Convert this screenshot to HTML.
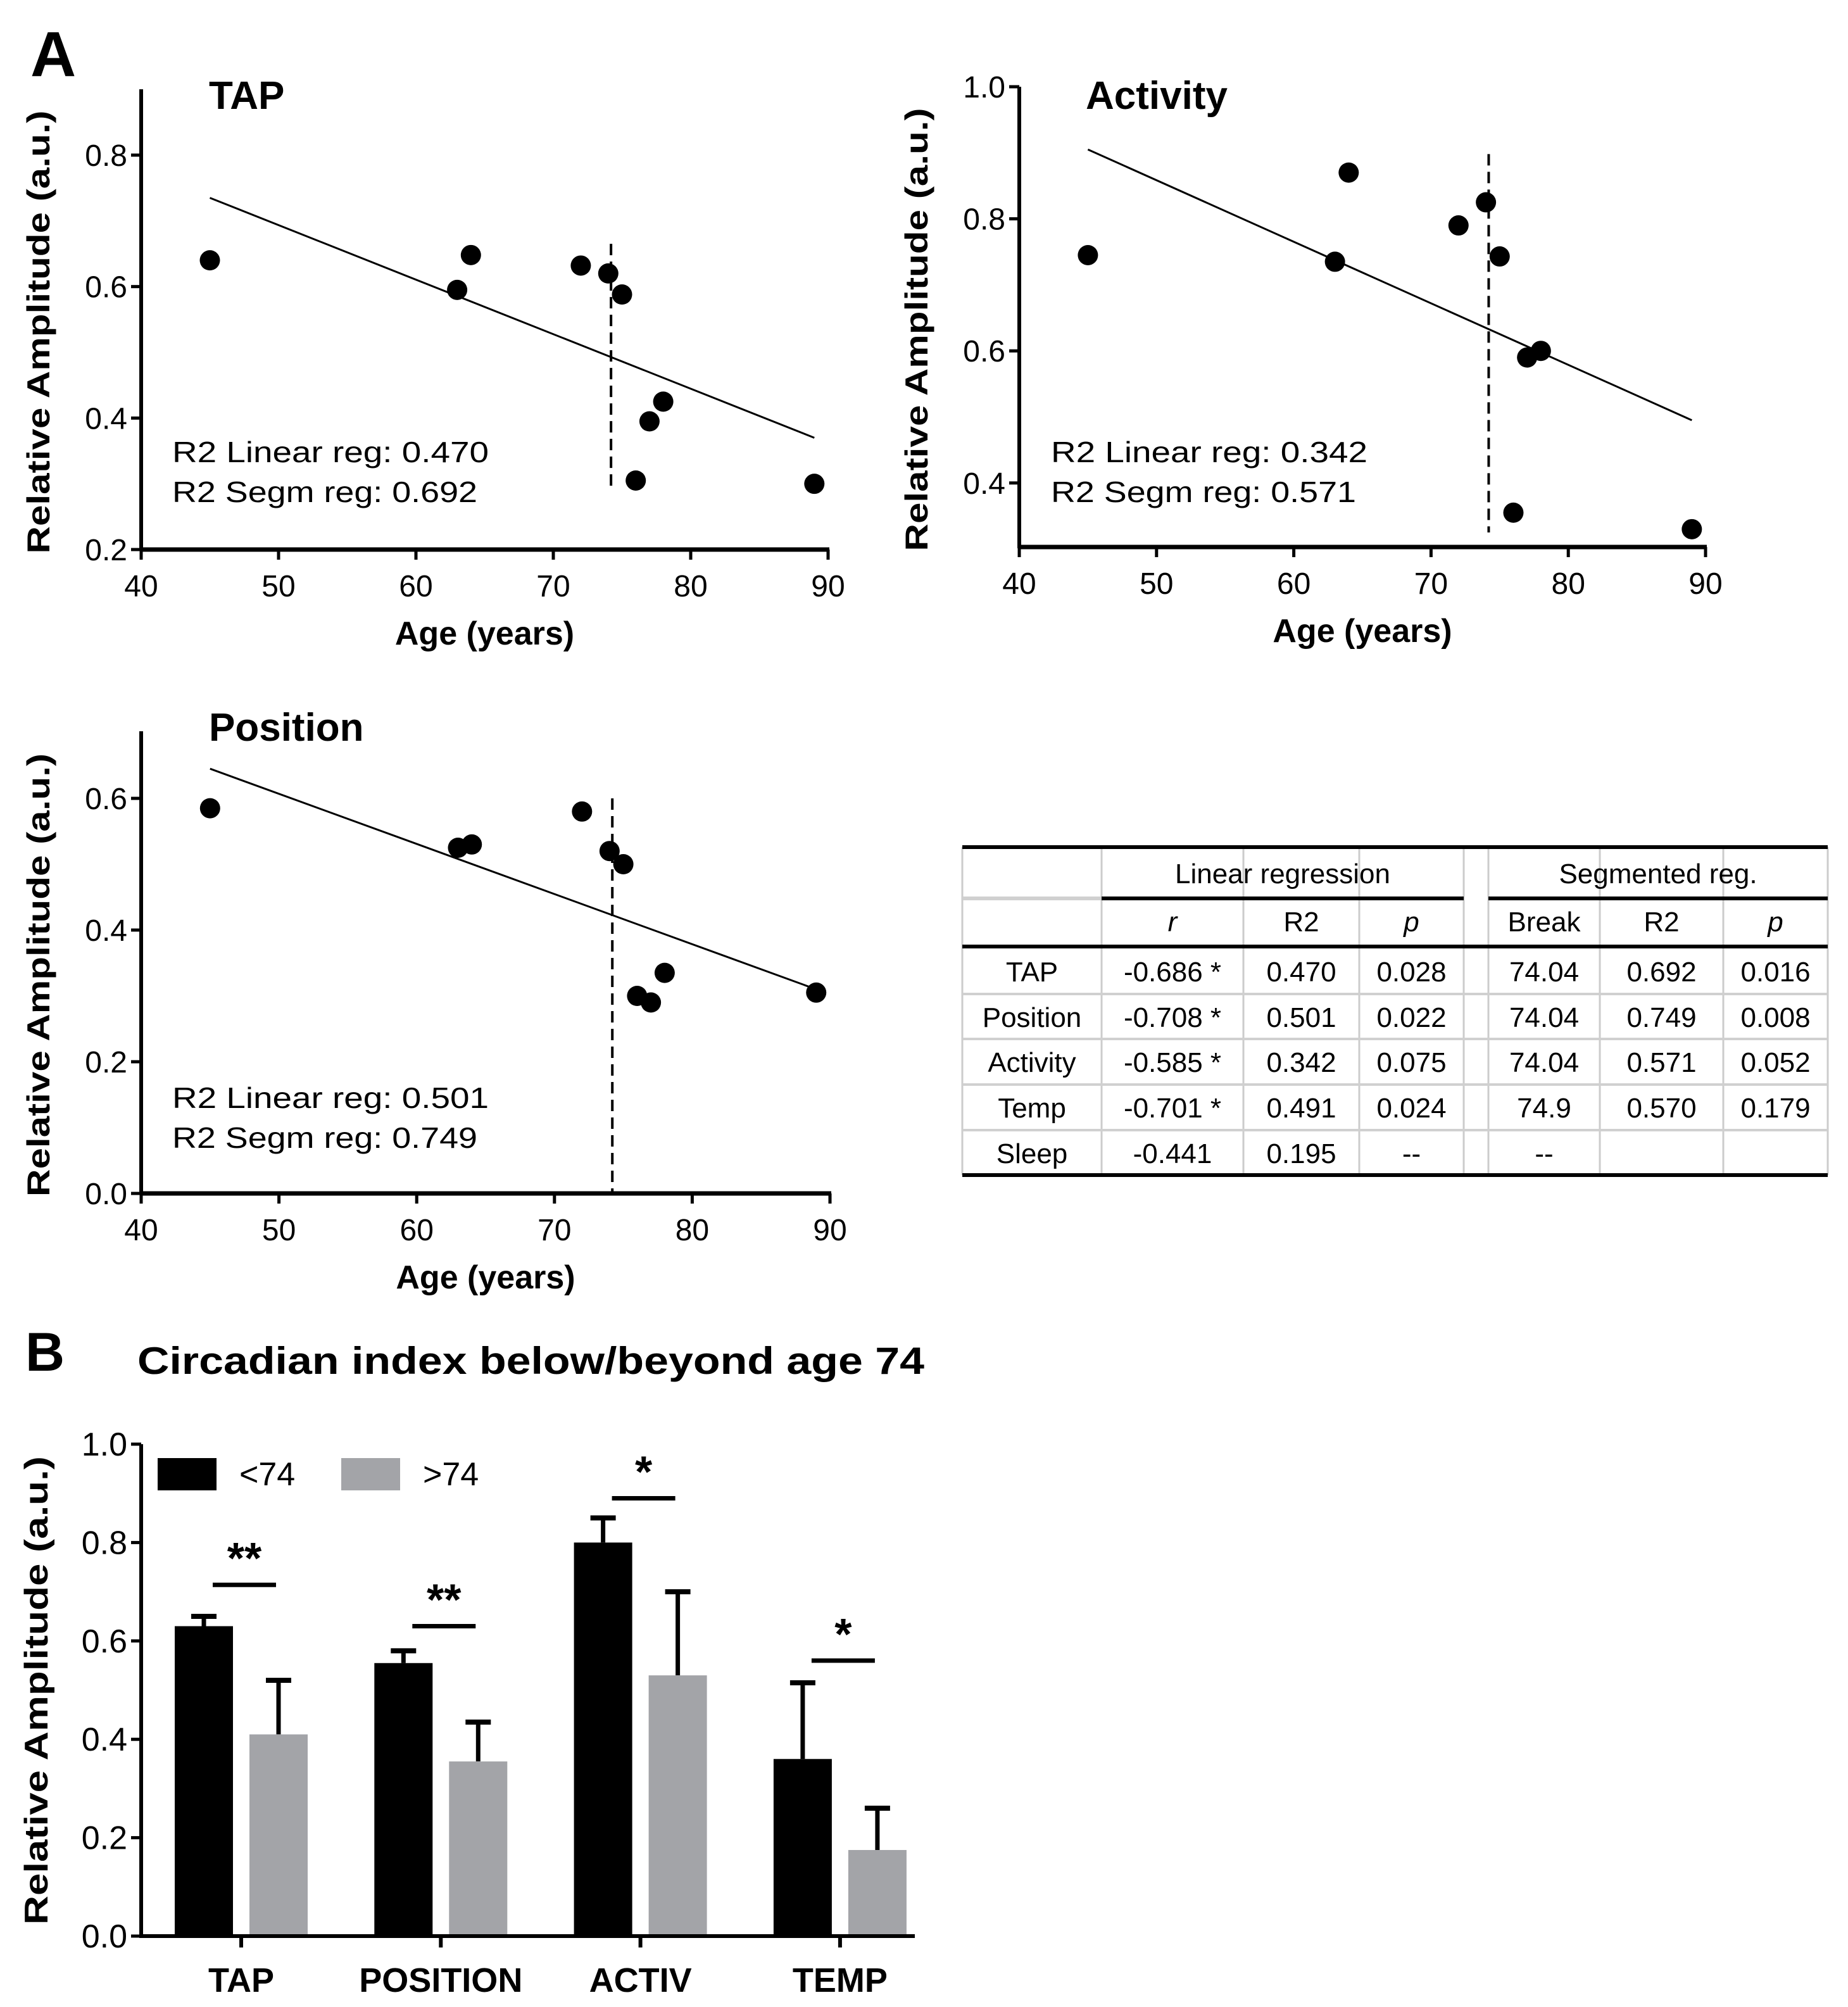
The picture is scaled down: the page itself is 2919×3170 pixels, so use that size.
<!DOCTYPE html>
<html><head><meta charset="utf-8">
<style>
html,body{margin:0;padding:0;background:#fff;}
svg{display:block;font-family:"Liberation Sans",Arial,sans-serif;}
</style></head>
<body>
<svg id="fig" width="2919" height="3170" viewBox="0 0 2919 3170" xmlns="http://www.w3.org/2000/svg">
<text x="48" y="120" font-size="100" font-weight="bold">A</text>
<text x="40" y="2165" font-size="86" font-weight="bold">B</text>
<g id="tapPlot"></g>
<g id="actPlot"></g>
<g id="posPlot"></g>
<g id="table"></g>
<g id="barPlot"></g>
</svg>
<script>
// ---- scatter data ----
const ages = [45, 63, 64, 72, 74, 75, 76, 77, 78, 89];
const tapValues = [0.64, 0.595, 0.648, 0.632, 0.62, 0.588, 0.305, 0.395, 0.425, 0.30];
const activityValues = [0.745, 0.735, 0.87, 0.79, 0.825, 0.743, 0.355, 0.59, 0.60, 0.33];
const positionValues = [0.585, 0.525, 0.53, 0.58, 0.52, 0.50, 0.30, 0.29, 0.335, 0.305];
const tapFit = [0.735, 0.37];
const activityFit = [0.905, 0.495];
const positionFit = [0.645, 0.31];
const fitAges = [45, 89];
const breakAge = 74.2;
const xTicks = [40, 50, 60, 70, 80, 90];
const tapYTicks = [0.2, 0.4, 0.6, 0.8];
const activityYTicks = [0.4, 0.6, 0.8, 1.0];
const positionYTicks = [0.0, 0.2, 0.4, 0.6];
// ---- bar data ----
const barCategories = ["TAP", "POSITION", "ACTIV", "TEMP"];
const youngMeans = [0.63, 0.555, 0.80, 0.36];
const youngErr = [0.02, 0.025, 0.05, 0.155];
const oldMeans = [0.41, 0.355, 0.53, 0.175];
const oldErr = [0.11, 0.08, 0.17, 0.085];
const sigLabels = ["**", "**", "*", "*"];
const sigLevels = [0.714, 0.63, 0.89, 0.56];
const barYTicks = [0.0, 0.2, 0.4, 0.6, 0.8, 1.0];
// ---- table data ----
const tableRowNames = ["TAP", "Position", "Activity", "Temp", "Sleep"];
const tableR = ["-0.686 *", "-0.708 *", "-0.585 *", "-0.701 *", "-0.441"];
const tableR2 = ["0.470", "0.501", "0.342", "0.491", "0.195"];
const tableP = ["0.028", "0.022", "0.075", "0.024", "--"];
const tableBreak = ["74.04", "74.04", "74.04", "74.9", "--"];
const tableSegR2 = ["0.692", "0.749", "0.571", "0.570", ""];
const tableSegP = ["0.016", "0.008", "0.052", "0.179", ""];

const NS = "http://www.w3.org/2000/svg";
function mk(parent, tag, attrs, text) {
  const e = document.createElementNS(NS, tag);
  for (const k in attrs) e.setAttribute(k, attrs[k]);
  if (text !== undefined) e.textContent = text;
  parent.appendChild(e);
  return e;
}

function scatter(gid, cfg, values, fit, yTicks, title, r2a, r2b) {
  const g = document.getElementById(gid);
  const X = a => cfg.x0 + (a - 40) / 50 * (cfg.x1 - cfg.x0);
  const Y = v => cfg.yb - (v - cfg.vb) / (cfg.vt - cfg.vb) * (cfg.yb - cfg.yt);
  let e;
  e = mk(g, "line", {x1: cfg.x0, y1: cfg.ytop, x2: cfg.x0, y2: cfg.yb + 2, stroke: "#000", "stroke-width": 6});
  
  
  e = mk(g, "line", {x1: cfg.x0 - 2, y1: cfg.yb, x2: cfg.x1 + 2, y2: cfg.yb, stroke: "#000", "stroke-width": 7});
  
  
  xTicks.forEach(t => {
    const tl = mk(g, "line", {x1: X(t), y1: cfg.yb, x2: X(t), y2: cfg.yb + 16, stroke: "#000", "stroke-width": 5});
    
    
    const tx = mk(g, "text", {x: X(t), y: cfg.yb + 74, "font-size": 48, "text-anchor": "middle"}, String(t));
    
    
  });
  yTicks.forEach(t => {
    const tl = mk(g, "line", {x1: cfg.x0 - 16, y1: Y(t), x2: cfg.x0, y2: Y(t), stroke: "#000", "stroke-width": 5});
    
    
    const tx = mk(g, "text", {x: cfg.x0 - 22, y: Y(t) + 17, "font-size": 48, "text-anchor": "end"}, t.toFixed(1));
    
    
  });
  e = mk(g, "text", {x: (cfg.x0 + cfg.x1) / 2, y: cfg.yb + 150, "font-size": 52, "font-weight": "bold", "text-anchor": "middle"}, "Age (years)");
  
  
  const ycen = (cfg.ytop + cfg.yb) / 2 + 20;
  e = mk(g, "text", {x: 0, y: 0, "font-size": 50, "font-weight": "bold", "text-anchor": "middle", transform: `translate(${cfg.x0 - 145},${ycen}) rotate(-90)`, textLength: 700, lengthAdjust: "spacingAndGlyphs"}, "Relative Amplitude (a.u.)");
  
  
  e = mk(g, "text", {x: cfg.tx, y: cfg.ty, "font-size": 62, "font-weight": "bold"}, title);
  
  
  e = mk(g, "line", {x1: X(fitAges[0]), y1: Y(fit[0]), x2: X(fitAges[1]), y2: Y(fit[1]), stroke: "#000", "stroke-width": 3});
  
  
  e = mk(g, "line", {x1: X(breakAge), y1: Y(cfg.dTop), x2: X(breakAge), y2: Y(cfg.dBot), stroke: "#000", "stroke-width": 4, "stroke-dasharray": "18,10"});
  
  
  ages.forEach((a, i) => {
    const c = mk(g, "ellipse", {cx: X(a), cy: Y(values[i]), rx: 16, ry: 16, fill: "#000"});
    
    
  });
  e = mk(g, "text", {x: cfg.rx, y: cfg.ry, "font-size": 46, textLength: 500, lengthAdjust: "spacingAndGlyphs"}, r2a);
  
  
  e = mk(g, "text", {x: cfg.rx, y: cfg.ry + 63, "font-size": 46, textLength: 482, lengthAdjust: "spacingAndGlyphs"}, r2b);
  
  
}

scatter("tapPlot", {x0: 223, x1: 1308, yb: 868, yt: 245, vb: 0.2, vt: 0.8, ytop: 141, tx: 330, ty: 172, dTop: 0.665, dBot: 0.29, rx: 272, ry: 730},
  tapValues, tapFit, tapYTicks, "TAP", "R2 Linear reg: 0.470", "R2 Segm reg: 0.692");
scatter("actPlot", {x0: 1610, x1: 2694, yb: 864, yt: 137, vb: 0.303, vt: 1.0, ytop: 137, tx: 1715, ty: 172, dTop: 0.898, dBot: 0.325, rx: 1660, ry: 730},
  activityValues, activityFit, activityYTicks, "Activity", "R2 Linear reg: 0.342", "R2 Segm reg: 0.571");
scatter("posPlot", {x0: 223, x1: 1311, yb: 1885, yt: 1261, vb: 0.0, vt: 0.6, ytop: 1155, tx: 330, ty: 1170, dTop: 0.60, dBot: 0.0, rx: 272, ry: 1750},
  positionValues, positionFit, positionYTicks, "Position", "R2 Linear reg: 0.501", "R2 Segm reg: 0.749");

// ---- table ----
(function () {
  const g = document.getElementById("table");
  const cols = [1520, 1740, 1964, 2147, 2312, 2351, 2527, 2722, 2887];
  const rows = [1338, 1419, 1495, 1570, 1641, 1713, 1785, 1856];
  const L = (x1, y1, x2, y2, w, c, n) => {
    const e = mk(g, "line", {x1, y1, x2, y2, stroke: c, "stroke-width": w});
    
    
  };
  cols.forEach(x => L(x, rows[0], x, rows[7], 3, "#ccc", "table-col-line"));
  for (let i = 3; i < 7; i++) L(cols[0], rows[i], cols[8], rows[i], 4, "#d0d0d0", "table-row-line");
  L(cols[0], rows[1], cols[1], rows[1], 6, "#d0d0d0", "table-row-line");
  L(cols[0], rows[0], cols[8], rows[0], 6, "#000", "table-top-rule");
  L(cols[1], rows[1], cols[4], rows[1], 6, "#000", "table-group-rule");
  L(cols[5], rows[1], cols[8], rows[1], 6, "#000", "table-group-rule");
  L(cols[0], rows[2], cols[8], rows[2], 6, "#000", "table-header-rule");
  L(cols[0], rows[7], cols[8], rows[7], 6, "#000", "table-bottom-rule");
  const T = (x, y, s, n, it) => {
    const e = mk(g, "text", {x, y, "font-size": 44, "text-anchor": "middle", "font-style": it ? "italic" : "normal"}, s);
    
    
  };
  T((cols[1] + cols[4]) / 2, rows[0] + 57, "Linear regression", "linear-regression-header");
  T((cols[5] + cols[8]) / 2, rows[0] + 57, "Segmented reg.", "segmented-header");
  const hdr = ["r", "R2", "p", "Break", "R2", "p"];
  const hc = [1, 2, 3, 5, 6, 7];
  hc.forEach((c, i) => T((cols[c] + cols[c + 1]) / 2, rows[1] + 52, hdr[i], "column-header", hdr[i] === "r" || hdr[i] === "p"));
  const data = [tableR, tableR2, tableP, tableBreak, tableSegR2, tableSegP];
  tableRowNames.forEach((nm, r) => {
    const y = rows[2 + r] + (r === 0 ? 55 : 52);
    T((cols[0] + cols[1]) / 2, y, nm, "row-label");
    data.forEach((arr, j) => T((cols[hc[j]] + cols[hc[j] + 1]) / 2, y, arr[r], "table-cell"));
  });
})();

// ---- bar chart ----
(function () {
  const g = document.getElementById("barPlot");
  const x0 = 223, xEnd = 1445, yb = 3058, yt = 2281;
  const Y = v => yb - v / 1.0 * (yb - yt);
  const centers = barCategories.map((c, i) => 381 + i * 315.3);
  const bw = 92;
  let e;
  e = mk(g, "text", {x: 217, y: 2170, "font-size": 60, "font-weight": "bold", textLength: 1243, lengthAdjust: "spacingAndGlyphs"}, "Circadian index below/beyond age 74");
  
  
  barCategories.forEach((c, i) => {
    const cx = centers[i];
    const bx = cx - 59 - bw / 2, gx = cx + 59 - bw / 2;
    e = mk(g, "line", {x1: cx - 59, y1: Y(youngMeans[i] + youngErr[i]), x2: cx - 59, y2: Y(youngMeans[i]), stroke: "#000", "stroke-width": 7});
    
    
    e = mk(g, "line", {x1: cx - 59 - 20, y1: Y(youngMeans[i] + youngErr[i]), x2: cx - 59 + 20, y2: Y(youngMeans[i] + youngErr[i]), stroke: "#000", "stroke-width": 8});
    
    
    e = mk(g, "rect", {x: bx, y: Y(youngMeans[i]), width: bw, height: yb - Y(youngMeans[i]), fill: "#000"});
    
    
    e = mk(g, "line", {x1: cx + 59, y1: Y(oldMeans[i] + oldErr[i]), x2: cx + 59, y2: Y(oldMeans[i]), stroke: "#000", "stroke-width": 7});
    
    
    e = mk(g, "line", {x1: cx + 59 - 20, y1: Y(oldMeans[i] + oldErr[i]), x2: cx + 59 + 20, y2: Y(oldMeans[i] + oldErr[i]), stroke: "#000", "stroke-width": 8});
    
    
    e = mk(g, "rect", {x: gx, y: Y(oldMeans[i]), width: bw, height: yb - Y(oldMeans[i]), fill: "#a3a4a8"});
    
    
    e = mk(g, "line", {x1: cx - 45, y1: Y(sigLevels[i]), x2: cx + 55, y2: Y(sigLevels[i]), stroke: "#000", "stroke-width": 7});
    
    
    e = mk(g, "text", {x: cx + 5, y: Y(sigLevels[i]) - 18, "font-size": 70, "font-weight": "bold", "text-anchor": "middle"}, sigLabels[i]);
    
    
    e = mk(g, "line", {x1: cx, y1: yb, x2: cx, y2: yb + 18, stroke: "#000", "stroke-width": 6});
    
    
    e = mk(g, "text", {x: cx, y: yb + 88, "font-size": 54, "font-weight": "bold", "text-anchor": "middle"}, c);
    
    
  });
  e = mk(g, "line", {x1: x0, y1: yt, x2: x0, y2: yb + 3, stroke: "#000", "stroke-width": 6});
  
  
  e = mk(g, "line", {x1: x0 - 2, y1: yb, x2: xEnd, y2: yb, stroke: "#000", "stroke-width": 6});
  
  
  barYTicks.forEach(t => {
    const tl = mk(g, "line", {x1: x0 - 16, y1: Y(t), x2: x0, y2: Y(t), stroke: "#000", "stroke-width": 5});
    
    
    const tx = mk(g, "text", {x: x0 - 22, y: Y(t) + 18, "font-size": 52, "text-anchor": "end"}, t.toFixed(1));
    
    
  });
  e = mk(g, "text", {x: 0, y: 0, "font-size": 52, "font-weight": "bold", "text-anchor": "middle", transform: `translate(75,2670) rotate(-90)`, textLength: 740, lengthAdjust: "spacingAndGlyphs"}, "Relative Amplitude (a.u.)");
  
  
  e = mk(g, "rect", {x: 249, y: 2303, width: 93, height: 51, fill: "#000"});
  
  
  e = mk(g, "text", {x: 378, y: 2346, "font-size": 52}, "<74");
  
  
  e = mk(g, "rect", {x: 539, y: 2303, width: 93, height: 51, fill: "#a3a4a8"});
  
  
  e = mk(g, "text", {x: 668, y: 2346, "font-size": 52}, ">74");
  
  
})();
</script>
</body></html>
